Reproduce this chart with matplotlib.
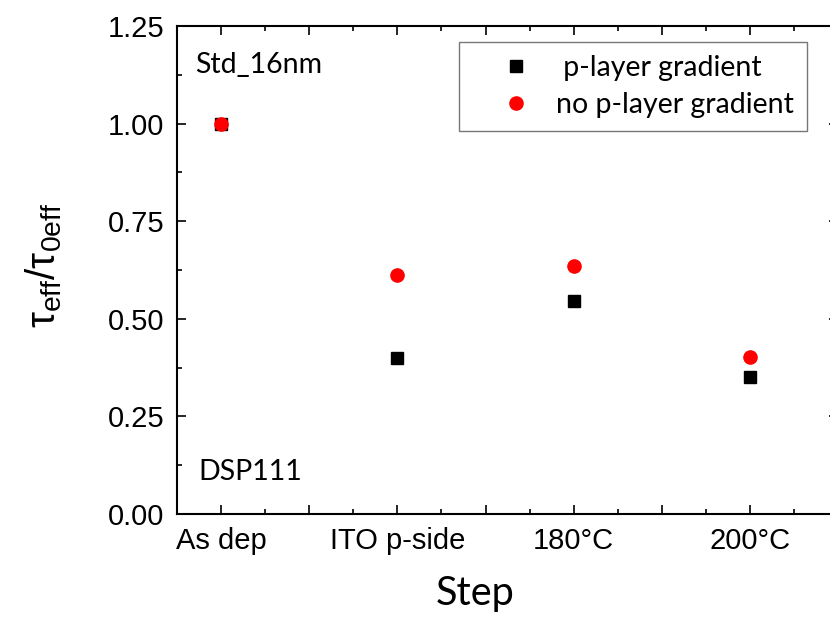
import matplotlib.pyplot as plt
from matplotlib.ticker import MultipleLocator, FuncFormatter

plt.rcParams['font.family'] = ['Liberation Sans', 'DejaVu Sans']
plt.rcParams['mathtext.fontset'] = 'custom'
plt.rcParams['mathtext.rm'] = 'Liberation Sans'

# Process steps and normalised lifetime
steps = ['As dep', 'ITO p-side', '180°C', '200°C']
with_gradient = [1.00, 0.40, 0.546, 0.352]
no_gradient = [1.00, 0.611, 0.634, 0.403]

x = list(range(1, len(steps) + 1))

fig = plt.figure(figsize=(8.3, 6.21), dpi=100)
ax = fig.add_axes([0.2133, 0.1723, 0.7964, 0.7858])

ax.plot(x, with_gradient, 's', color='black', markersize=8, label=' p-layer gradient', zorder=3)
ax.plot(x, no_gradient, 'o', color='red', markersize=9.5, label='no p-layer gradient', zorder=4)

ax.set_xlim(0.75, 4.5)
ax.set_ylim(0, 1.25)

ax.xaxis.set_major_locator(MultipleLocator(0.5))
ax.xaxis.set_minor_locator(MultipleLocator(0.25))
ax.xaxis.set_major_formatter(FuncFormatter(
    lambda v, pos: steps[int(round(v)) - 1] if abs(v - round(v)) < 1e-6 and 1 <= round(v) <= len(steps) else ''))
ax.yaxis.set_major_locator(MultipleLocator(0.25))
ax.yaxis.set_minor_locator(MultipleLocator(0.125))

ax.tick_params(which='both', direction='in', top=True, right=True, width=1.2)
ax.tick_params(which='major', length=6.5, labelsize=21, pad=9)
ax.tick_params(which='minor', length=3.5)
for sp in ax.spines.values():
    sp.set_linewidth(1.5)

ax.set_xlabel('Step', fontsize=28.5, fontfamily='Lato')
ax.xaxis.set_label_coords(0.451, -0.125)
ax.set_ylabel(r'τ$_{\rm eff}$/τ$_{\rm 0eff}$', fontsize=29)
ax.yaxis.set_label_coords(-0.171, 0.51)

ax.text(0.85, 1.13, 'Std_16nm', fontsize=20.5, fontfamily='Lato', va='baseline')
ax.text(0.87, 0.087, 'DSP111', fontsize=20.5, fontfamily='Lato', va='baseline')

leg = ax.legend(loc='upper left', bbox_to_anchor=(0.427, 0.967),
                prop={'family': 'Lato', 'size': 20.5}, frameon=True, fancybox=False,
                edgecolor='#555555', borderpad=0.45, handletextpad=-0.15,
                labelspacing=0.4, handlelength=3.1, borderaxespad=0)
leg.get_frame().set_linewidth(1.0)

fig.savefig('out.png', dpi=100)
